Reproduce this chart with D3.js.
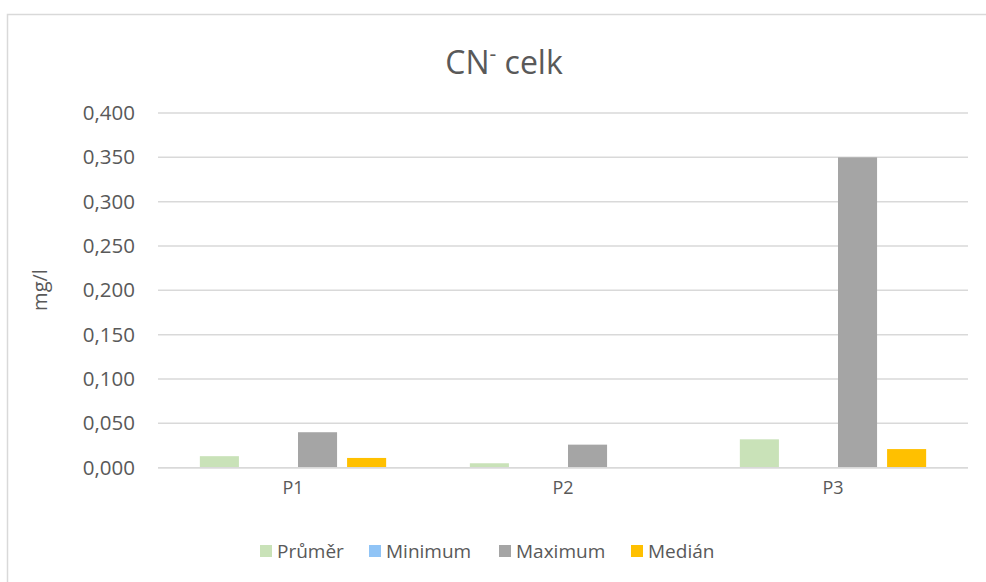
<!DOCTYPE html>
<html><head><meta charset="utf-8">
<script src="https://cdn.jsdelivr.net/npm/d3@7"></script>
<style>body{margin:0;background:#fff}svg{display:block}text{font-family:"Open Sans",sans-serif;fill:#595959}</style>
</head><body><svg id="c" width="986" height="582"></svg>
<script>
const categories = ["P1","P2","P3"];
const seriesNames = ["Průměr","Minimum","Maximum","Medián"];
const prumer = [0.013, 0.005, 0.032];
const minimum = [0, 0, 0];
const maximum = [0.040, 0.026, 0.350];
const median = [0.011, 0, 0.021];
const yTicks = [0,0.05,0.1,0.15,0.2,0.25,0.3,0.35,0.4];
const colors = ["#C9E2B8","#90C4F6","#A5A5A5","#FFC000"];
const seriesValues = [prumer, minimum, maximum, median];

const svg = d3.select("#c");
svg.append("rect").attr("x",7.5).attr("y",14.5).attr("width",1000).attr("height",600)
  .attr("fill","#fff").attr("stroke","#D9D9D9").attr("stroke-width",1.5);

const m = {l:158, r:968, t:113, b:467.7};
const x0 = d3.scaleBand().domain(categories).range([m.l, m.r]);
const bw = x0.bandwidth();
const x1 = d3.scaleBand().domain(seriesNames).range([bw*0.155, bw*0.845]).paddingInner(0.204).paddingOuter(0);
const y = d3.scaleLinear().domain([0,0.4]).range([m.b, m.t]);
const fmt = v => d3.format(".3f")(v).replace(".", ",");

svg.append("g").selectAll("line").data(yTicks).join("line")
  .attr("x1", m.l).attr("x2", m.r).attr("y1", d=>y(d)).attr("y2", d=>y(d))
  .attr("stroke","#D9D9D9").attr("stroke-width",1.5);

const yAxis = d3.axisLeft(y).tickValues(yTicks).tickFormat(fmt).tickSize(0).tickPadding(23);
const ya = svg.append("g").attr("transform",`translate(${m.l},0)`).call(yAxis);
ya.select(".domain").remove();
ya.selectAll("text").attr("font-size",20.5).attr("font-family","Open Sans").attr("fill","#595959");

const xAxis = d3.axisBottom(x0).tickSize(0).tickPadding(14);
const xa = svg.append("g").attr("transform",`translate(0,${m.b})`).call(xAxis);
xa.select(".domain").remove();
xa.selectAll("text").attr("font-size",18).attr("font-family","Open Sans").attr("fill","#595959");

const data = [];
categories.forEach((c,i)=>seriesNames.forEach((s,j)=>data.push({c, s, v: seriesValues[j][i], col: colors[j]})));
svg.append("g").selectAll("rect").data(data).join("rect")
  .attr("x", d=>x0(d.c)+x1(d.s)).attr("width", x1.bandwidth())
  .attr("y", d=>y(d.v)).attr("height", d=>y(0)-y(d.v)).attr("fill", d=>d.col);

svg.append("line").attr("x1",m.l).attr("x2",m.r).attr("y1",y(0)).attr("y2",y(0)).attr("stroke","#D9D9D9").attr("stroke-width",1.5);

const t = svg.append("text").attr("x",504).attr("y",74).attr("text-anchor","middle").attr("font-size",32);
t.append("tspan").text("CN");
t.append("tspan").attr("dy",-13).attr("font-size",21).text("-");
t.append("tspan").attr("dy",13).text(" celk");

svg.append("text").attr("transform","translate(47,290) rotate(-90)").attr("text-anchor","middle").attr("font-size",20).text("mg/l");

const legX = [260, 369, 499, 631];
const lg = svg.append("g").selectAll("g").data(seriesNames).join("g").attr("transform",(d,i)=>`translate(${legX[i]},545)`);
lg.append("rect").attr("width",12).attr("height",12).attr("fill",(d,i)=>colors[i]);
lg.append("text").attr("x",17).attr("y",12.5).attr("font-size",19).text(d=>d);
</script></body></html>
